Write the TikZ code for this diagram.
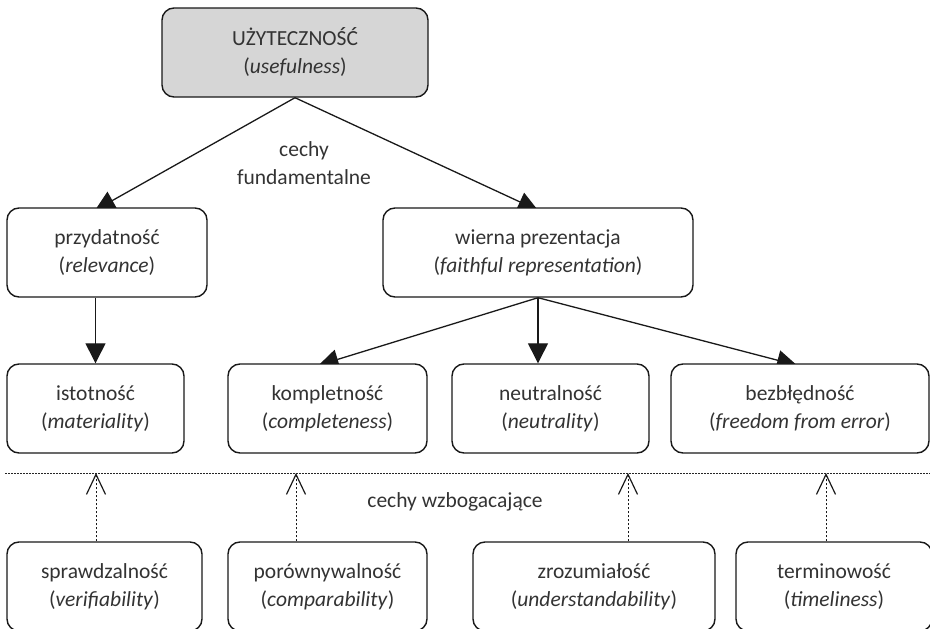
\documentclass[tikz,border=0pt]{standalone}
\usepackage{fontspec}
\setmainfont{Carlito}
\usetikzlibrary{arrows.meta,calc}
\definecolor{txt}{HTML}{333333}
\definecolor{topfill}{HTML}{D6D6D6}
\pgfdeclarelayer{bg}
\pgfsetlayers{bg,main}
\begin{document}
\begin{tikzpicture}[x=1pt,y=1pt,
  font=\fontsize{21.5}{28}\selectfont,
  box/.style={draw=black!90, line width=1.4pt, rounded corners=12pt, fill=white,
    align=center, text=txt, inner sep=0pt, minimum height=89pt},
  arr/.style={draw=black!90, line width=1.3pt, -{Triangle[length=20pt,width=20pt]}},
  darr/.style={draw=black!90, line width=1pt, dash pattern=on 2pt off 2pt,
    -{Straight Barb[length=20pt,width=19pt,line width=1.2pt]}},
  lbl/.style={text=txt, align=center, inner sep=0pt}]
\clip (0,0) rectangle (930,-629);

% upper nodes
\node[box, fill=topfill, minimum width=266pt] (top) at (295,-52.5) {UŻYTECZNOŚĆ\\(\textit{usefulness})};
\node[box, minimum width=200pt] (przyd) at (107,-252.5) {przydatność\\(\textit{relevance})};
\node[box, minimum width=310pt] (wierna) at (538,-252.5) {wierna prezentacja\\(\textit{faithful representation})};
\node[lbl] (fund) at (304,-163) {cechy\\fundamentalne};

\node[box, minimum width=177pt] (istot) at (95.5,-408.5) {istotność\\(\textit{materiality})};
\node[box, minimum width=199pt] (kompl) at (327.5,-408.5) {kompletność\\(\textit{completeness})};
\node[box, minimum width=197pt] (neutr) at (550.5,-408.5) {neutralność\\(\textit{neutrality})};
\node[box, minimum width=258pt] (bezbl) at (800,-408.5) {bezbłędność\\(\textit{freedom from error})};

% arrow ends (slightly inside the boxes, tips partly hidden)
\coordinate (tp) at ([shift={(-12,-3)}]przyd.north);
\coordinate (tw) at ([shift={(0,-3)}]wierna.north);
\coordinate (tk) at ([shift={(-9,-2)}]kompl.north);
\coordinate (tb) at ([shift={(-3,-2)}]bezbl.north);

\begin{pgfonlayer}{bg}
\draw[arr] (top.south) -- (tp);
\draw[arr] (top.south) -- (tw);
\draw[arr] (istot.north |- przyd.south) -- (istot.north);
\draw[arr] (wierna.south) -- (tk);
\draw[arr] (wierna.south) -- (wierna.south |- neutr.north);
\draw[arr] (wierna.south) -- (tb);
\end{pgfonlayer}

% dotted separator
\coordinate (L) at (5,-473);
\coordinate (R) at (930,-473);
\draw[black!85, line width=1pt, dash pattern=on 1.5pt off 1.5pt] (L) -- (R);

\node[lbl] (enh) at (455,-502) {cechy wzbogacające};

% bottom boxes
\node[box, minimum width=195pt] (spraw) at (104.5,-586.5) {sprawdzalność\\(\textit{verifiability})};
\node[box, minimum width=199pt] (poro) at (327.5,-586.5) {porównywalność\\(\textit{comparability})};
\node[box, minimum width=242pt] (zroz) at (594,-586.5) {zrozumiałość\\(\textit{understandability})};
\node[box, minimum width=196pt] (term) at (834,-586.5) {terminowość\\(\textit{timeliness})};

\coordinate (d1) at (96,-473);
\coordinate (d2) at (296,-473);
\coordinate (d3) at (628,-473);
\coordinate (d4) at (826,-473);
\draw[darr] (d1 |- spraw.north) -- (d1);
\draw[darr] (d2 |- poro.north) -- (d2);
\draw[darr] (d3 |- zroz.north) -- (d3);
\draw[darr] (d4 |- term.north) -- (d4);
\end{tikzpicture}
\end{document}
